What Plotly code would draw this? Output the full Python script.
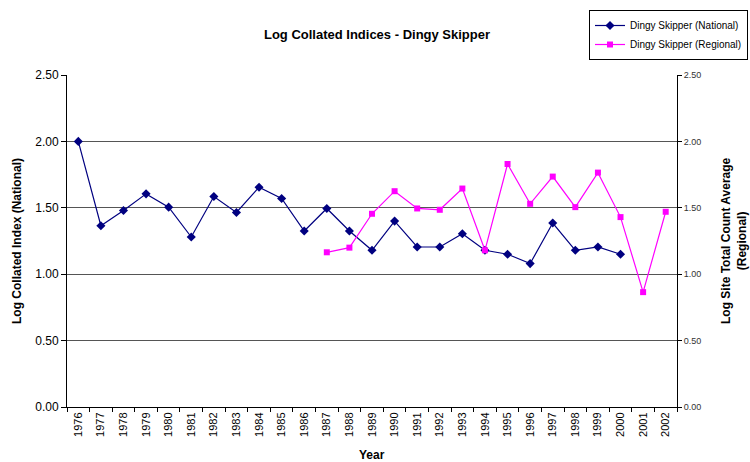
import plotly.graph_objects as go

years = [str(y) for y in range(1976, 2003)]
national_years = [str(y) for y in range(1976, 2001)]
national = [2.00, 1.365, 1.48, 1.605, 1.505, 1.28, 1.585, 1.465, 1.655, 1.57,
            1.325, 1.495, 1.325, 1.18, 1.40, 1.205, 1.205, 1.305, 1.18, 1.15,
            1.08, 1.385, 1.18, 1.205, 1.15]
regional_years = [str(y) for y in range(1987, 2003)]
regional = [1.165, 1.20, 1.455, 1.625, 1.495, 1.485, 1.645, 1.18, 1.83, 1.53,
            1.735, 1.505, 1.765, 1.43, 0.865, 1.47]
y_ticks = [0, 0.5, 1.0, 1.5, 2.0, 2.5]

FONT = "Liberation Sans, Arial, sans-serif"
W, H = 750, 462
L, R, T, B = 67, 73, 75, 55
PW, PH = W - L - R, H - T - B


def px_x(x):
    return (x - L) / PW


def px_y(y):
    return (H - B - y) / PH


fig = go.Figure()
fig.add_trace(go.Scatter(
    x=national_years, y=national, name="Dingy Skipper (National)",
    mode="lines+markers", line=dict(color="#000080", width=1.2),
    marker=dict(symbol="diamond", size=7, color="#000080"), yaxis="y"))
fig.add_trace(go.Scatter(
    x=regional_years, y=regional, name="Dingy Skipper (Regional)",
    mode="lines+markers", line=dict(color="#FF00FF", width=1.2),
    marker=dict(symbol="square", size=6, color="#FF00FF"), yaxis="y2"))

fig.update_layout(
    width=W, height=H,
    margin=dict(l=L, r=R, t=T, b=B, autoexpand=False),
    paper_bgcolor="white", plot_bgcolor="white",
    font=dict(family=FONT, color="black"),
    title=dict(text="<b>Log Collated Indices - Dingy Skipper</b>",
               x=377/W, xanchor="center", y=1-34/H, yanchor="middle",
               font=dict(size=13, family=FONT, color="black")),
    showlegend=True,
    legend=dict(x=748/W, xref="container", xanchor="right", y=1-10/H, yref="container",
                yanchor="top", bordercolor="black", borderwidth=1,
                bgcolor="white", font=dict(size=10, family=FONT),
                tracegroupgap=0, itemwidth=30),
    xaxis=dict(type="category", categoryorder="array", categoryarray=years,
               range=[-0.5, 26.5], tickangle=-90, tickfont=dict(size=11),
               showline=True, linecolor="black", linewidth=1,
               ticks="outside", ticklen=4, tickcolor="black",
               tickson="boundaries", showgrid=False, automargin=False),
    yaxis=dict(range=[0, 2.5], tickvals=y_ticks, tickformat=".2f",
               tickfont=dict(size=12), showline=True, linecolor="black",
               linewidth=1, ticks="outside", ticklen=5, tickcolor="black",
               showgrid=True, gridcolor="#555555", gridwidth=1, zeroline=False,
               automargin=False),
    yaxis2=dict(range=[0, 2.5], tickvals=y_ticks, tickformat=".2f",
                overlaying="y", side="right", tickfont=dict(size=9, color="#333333"),
                showline=True, linecolor="black", linewidth=1,
                ticks="outside", ticklen=4, tickcolor="black",
                showgrid=False, zeroline=False, automargin=False),
    annotations=[
        dict(text="<b>Year</b>", xref="paper", yref="paper",
             x=px_x(372), y=px_y(455), xanchor="center", yanchor="middle",
             showarrow=False, font=dict(size=12, family=FONT)),
        dict(text="<b>Log Collated Index (National)</b>", xref="paper", yref="paper",
             x=px_x(17), y=0.5, xanchor="center", yanchor="middle", textangle=-90,
             showarrow=False, font=dict(size=12, family=FONT)),
        dict(text="<b>Log Site Total Count Average<br>(Regional)</b>", xref="paper",
             yref="paper", x=px_x(734), y=0.5, xanchor="center", yanchor="middle",
             textangle=-90, showarrow=False, font=dict(size=12, family=FONT)),
    ],
)

fig.write_html("out.html", config={"displayModeBar": False},
               post_script="document.body.style.margin='0';")
